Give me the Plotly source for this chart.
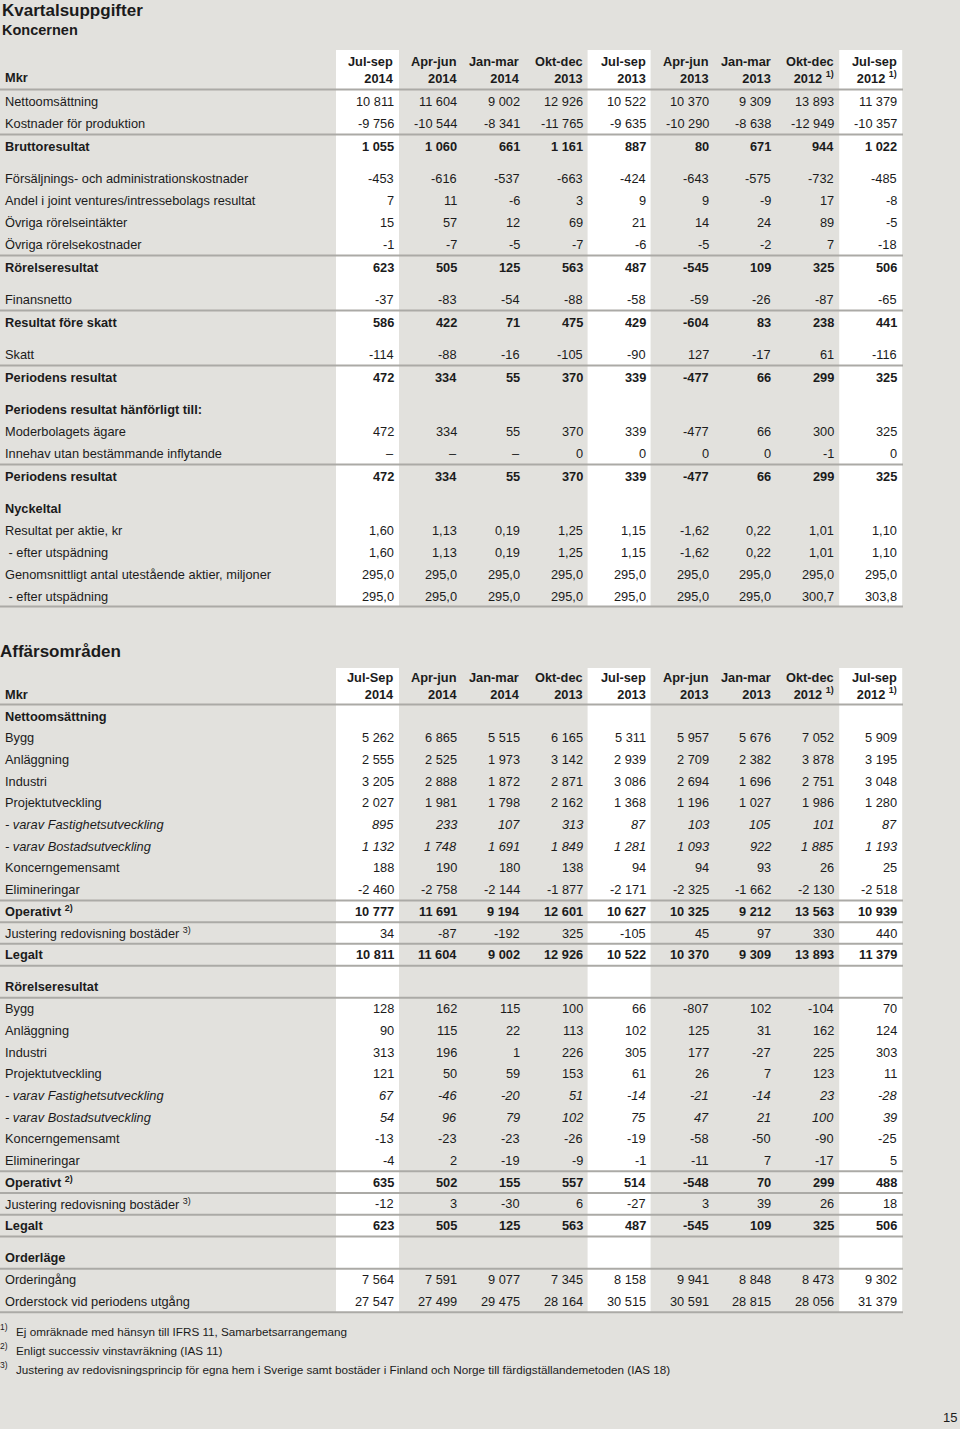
import plotly.graph_objects as go

# ---------------- DATA ----------------
periods_koncern = ["Jul-sep", "Apr-jun", "Jan-mar", "Okt-dec", "Jul-sep", "Apr-jun", "Jan-mar", "Okt-dec", "Jul-sep"]
periods_affar = ["Jul-Sep", "Apr-jun", "Jan-mar", "Okt-dec", "Jul-sep", "Apr-jun", "Jan-mar", "Okt-dec", "Jul-sep"]
years = ["2014", "2014", "2014", "2013", "2013", "2013", "2013", "2012 <sup>1)</sup>", "2012 <sup>1)</sup>"]

koncern_labels = [
    "Nettoomsättning", "Kostnader för produktion", "Bruttoresultat",
    "Försäljnings- och administrationskostnader", "Andel i joint ventures/intressebolags resultat",
    "Övriga rörelseintäkter", "Övriga rörelsekostnader", "Rörelseresultat",
    "Finansnetto", "Resultat före skatt", "Skatt", "Periodens resultat",
    "Periodens resultat hänförligt till:", "Moderbolagets ägare",
    "Innehav utan bestämmande inflytande", "Periodens resultat",
    "Nyckeltal", "Resultat per aktie, kr", "\u00a0- efter utspädning",
    "Genomsnittligt antal utestående aktier, miljoner", "\u00a0- efter utspädning",
]
koncern_values = [
    ["10 811", "11 604", "9 002", "12 926", "10 522", "10 370", "9 309", "13 893", "11 379"],
    ["-9 756", "-10 544", "-8 341", "-11 765", "-9 635", "-10 290", "-8 638", "-12 949", "-10 357"],
    ["1 055", "1 060", "661", "1 161", "887", "80", "671", "944", "1 022"],
    ["-453", "-616", "-537", "-663", "-424", "-643", "-575", "-732", "-485"],
    ["7", "11", "-6", "3", "9", "9", "-9", "17", "-8"],
    ["15", "57", "12", "69", "21", "14", "24", "89", "-5"],
    ["-1", "-7", "-5", "-7", "-6", "-5", "-2", "7", "-18"],
    ["623", "505", "125", "563", "487", "-545", "109", "325", "506"],
    ["-37", "-83", "-54", "-88", "-58", "-59", "-26", "-87", "-65"],
    ["586", "422", "71", "475", "429", "-604", "83", "238", "441"],
    ["-114", "-88", "-16", "-105", "-90", "127", "-17", "61", "-116"],
    ["472", "334", "55", "370", "339", "-477", "66", "299", "325"],
    None,
    ["472", "334", "55", "370", "339", "-477", "66", "300", "325"],
    ["–", "–", "–", "0", "0", "0", "0", "-1", "0"],
    ["472", "334", "55", "370", "339", "-477", "66", "299", "325"],
    None,
    ["1,60", "1,13", "0,19", "1,25", "1,15", "-1,62", "0,22", "1,01", "1,10"],
    ["1,60", "1,13", "0,19", "1,25", "1,15", "-1,62", "0,22", "1,01", "1,10"],
    ["295,0", "295,0", "295,0", "295,0", "295,0", "295,0", "295,0", "295,0", "295,0"],
    ["295,0", "295,0", "295,0", "295,0", "295,0", "295,0", "295,0", "300,7", "303,8"],
]

affar_labels = [
    "Nettoomsättning", "Bygg", "Anläggning", "Industri", "Projektutveckling",
    "- varav Fastighetsutveckling", "- varav Bostadsutveckling", "Koncerngemensamt",
    "Elimineringar", "Operativt <sup>2)</sup>", "Justering redovisning bostäder <sup>3)</sup>", "Legalt",
    "Rörelseresultat", "Bygg", "Anläggning", "Industri", "Projektutveckling",
    "- varav Fastighetsutveckling", "- varav Bostadsutveckling", "Koncerngemensamt",
    "Elimineringar", "Operativt <sup>2)</sup>", "Justering redovisning bostäder <sup>3)</sup>", "Legalt",
    "Orderläge", "Orderingång", "Orderstock vid periodens utgång",
]
affar_values = [
    None,
    ["5 262", "6 865", "5 515", "6 165", "5 311", "5 957", "5 676", "7 052", "5 909"],
    ["2 555", "2 525", "1 973", "3 142", "2 939", "2 709", "2 382", "3 878", "3 195"],
    ["3 205", "2 888", "1 872", "2 871", "3 086", "2 694", "1 696", "2 751", "3 048"],
    ["2 027", "1 981", "1 798", "2 162", "1 368", "1 196", "1 027", "1 986", "1 280"],
    ["895", "233", "107", "313", "87", "103", "105", "101", "87"],
    ["1 132", "1 748", "1 691", "1 849", "1 281", "1 093", "922", "1 885", "1 193"],
    ["188", "190", "180", "138", "94", "94", "93", "26", "25"],
    ["-2 460", "-2 758", "-2 144", "-1 877", "-2 171", "-2 325", "-1 662", "-2 130", "-2 518"],
    ["10 777", "11 691", "9 194", "12 601", "10 627", "10 325", "9 212", "13 563", "10 939"],
    ["34", "-87", "-192", "325", "-105", "45", "97", "330", "440"],
    ["10 811", "11 604", "9 002", "12 926", "10 522", "10 370", "9 309", "13 893", "11 379"],
    None,
    ["128", "162", "115", "100", "66", "-807", "102", "-104", "70"],
    ["90", "115", "22", "113", "102", "125", "31", "162", "124"],
    ["313", "196", "1", "226", "305", "177", "-27", "225", "303"],
    ["121", "50", "59", "153", "61", "26", "7", "123", "11"],
    ["67", "-46", "-20", "51", "-14", "-21", "-14", "23", "-28"],
    ["54", "96", "79", "102", "75", "47", "21", "100", "39"],
    ["-13", "-23", "-23", "-26", "-19", "-58", "-50", "-90", "-25"],
    ["-4", "2", "-19", "-9", "-1", "-11", "7", "-17", "5"],
    ["635", "502", "155", "557", "514", "-548", "70", "299", "488"],
    ["-12", "3", "-30", "6", "-27", "3", "39", "26", "18"],
    ["623", "505", "125", "563", "487", "-545", "109", "325", "506"],
    None,
    ["7 564", "7 591", "9 077", "7 345", "8 158", "9 941", "8 848", "8 473", "9 302"],
    ["27 547", "27 499", "29 475", "28 164", "30 515", "30 591", "28 815", "28 056", "31 379"],
]

footnote_marks = ["1)", "2)", "3)"]
footnote_texts = [
    "Ej omräknade med hänsyn till IFRS 11, Samarbetsarrangemang",
    "Enligt successiv vinstavräkning (IAS 11)",
    "Justering av redovisningsprincip för egna hem i Sverige samt bostäder i Finland och Norge till färdigställandemetoden (IAS 18)",
]

# ---------------- STYLE / LAYOUT ----------------
W, H = 960, 1429
BG = "#e2e1dd"
LINEC = "#abaaa6"
TXT = "#1b1b1b"
FONT = "Liberation Sans, Arial, Helvetica, sans-serif"
FS = 12.8

col_right = [394 + i * 62.9 for i in range(9)]
band_cols = [0, 4, 8]

# per-row style for section 1: 'n' normal, 'b' bold, 'h' bold header (no values)
k_kind = ["n", "n", "b", "n", "n", "n", "n", "b", "n", "b", "n", "b",
          "h", "n", "n", "b", "h", "n", "n", "n", "n"]
k_gap = [0, 0, 0, 10, 0, 0, 0, 0, 10, 0, 10, 0, 10, 0, 0, 0, 10, 0, 0, 0, 0]
k_line = [False, False, True, False, False, False, False, True, False, True, False, True,
          False, False, False, True, False, False, False, False, False]

a_kind = ["h", "n", "n", "n", "n", "i", "i", "n", "n", "b", "n", "b",
          "h", "n", "n", "n", "n", "i", "i", "n", "n", "b", "n", "b",
          "h", "n", "n"]
a_gap = [0] * len(a_kind)
a_gap[12] = 10.5
a_gap[24] = 10.5
a_line_above = [False] * len(a_kind)
for i in (9, 10, 11, 13, 21, 22, 23, 25):
    a_line_above[i] = True
a_line_below = [False] * len(a_kind)
for i in (11, 23):
    a_line_below[i] = True


def place(y0, step, gaps, line_flags, extra):
    ys, y = [], y0
    for i in range(len(gaps)):
        if i > 0:
            y += step + gaps[i] + (extra if line_flags[i] else 0)
        ys.append(y)
    return ys


k_y = place(101, 22, k_gap, k_line, 1)
a_y = place(716, 21.7, a_gap, a_line_above, 0)

fig = go.Figure()
fig.add_trace(go.Scatter(x=[0, W], y=[0, H], mode="markers", marker=dict(opacity=0),
                         hoverinfo="skip", showlegend=False))

shapes = []
annotations = []


def text(x, y, s, size=FS, anchor="right", bold=False, italic=False, valign="middle"):
    if bold:
        s = "<b>" + s + "</b>"
    if italic:
        s = "<i>" + s + "</i>"
    annotations.append(dict(x=x, y=y, xref="x", yref="y", text=s, showarrow=False,
                            xanchor=anchor, yanchor=valign, align=anchor,
                            borderpad=0, borderwidth=0,
                            font=dict(family=FONT, size=size, color=TXT)))


def hline(y):
    shapes.append(dict(type="line", xref="x", yref="y", x0=0, x1=903, y0=y, y1=y,
                       line=dict(color=LINEC, width=2), layer="above"))


def band(top, bottom):
    for c in band_cols:
        shapes.append(dict(type="rect", xref="x", yref="y", x0=col_right[c] - 58, x1=col_right[c] + 5,
                           y0=top, y1=bottom, fillcolor="white", line=dict(width=0), layer="below"))


def section(labels, values, kinds, ys, line_above, line_below, header_y, header_names, step_line_bottom):
    # header
    text(5, header_y + 8, "Mkr", anchor="left", bold=True)
    for c in range(9):
        text(col_right[c], header_y, header_names[c] + "<br>" + years[c], bold=True)
    hline(ys[0] - 11.5)
    for i, lab in enumerate(labels):
        k = kinds[i]
        b = k in ("b", "h")
        it = k == "i"
        text(5, ys[i], lab, anchor="left", bold=b, italic=it)
        if values[i] is not None:
            for c in range(9):
                text(col_right[c], ys[i], values[i][c], bold=b, italic=it)
        if line_above[i] and i > 0:
            hline((ys[i - 1] + ys[i]) / 2)
        if line_below[i]:
            hline(ys[i] + 11)
    bottom = ys[-1] + step_line_bottom
    hline(bottom)
    return bottom


# titles
text(2, 10, "Kvartalsuppgifter", size=17, anchor="left", bold=True)
text(2, 30, "Koncernen", size=14.5, anchor="left", bold=True)
text(0, 651, "Affärsområden", size=17, anchor="left", bold=True)

b1 = section(koncern_labels, koncern_values, k_kind, k_y, k_line, [False] * len(k_kind),
             69.5, periods_koncern, 10.5)
band(50, b1)
b2 = section(affar_labels, affar_values, a_kind, a_y, a_line_above, a_line_below,
             686, periods_affar, 11)
band(668, b2)

# footnotes
for i in range(3):
    fy = 1331 + i * 19
    text(0, fy - 4, footnote_marks[i], size=8.5, anchor="left")
    text(16, fy, footnote_texts[i], size=11.7, anchor="left")

text(957, 1417, "15", size=13, anchor="right")

fig.update_layout(
    width=W, height=H, margin=dict(l=0, r=0, t=0, b=0),
    paper_bgcolor=BG, plot_bgcolor=BG, showlegend=False,
    xaxis=dict(range=[0, W], visible=False, fixedrange=True),
    yaxis=dict(range=[H, 0], visible=False, fixedrange=True),
    shapes=shapes, annotations=annotations,
)
fig.write_html("out.html", config={"displayModeBar": False},
               post_script="document.body.style.margin='0px';document.body.style.padding='0px';"
                           "document.documentElement.style.background='" + BG + "';")
